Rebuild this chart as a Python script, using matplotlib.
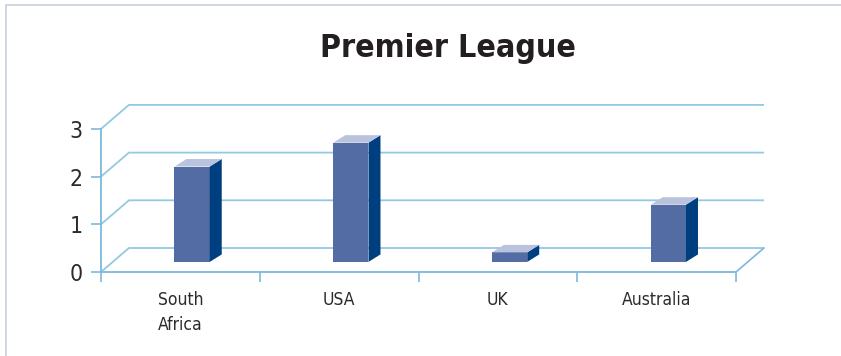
import matplotlib
matplotlib.use("Agg")
import matplotlib.pyplot as plt
from matplotlib import font_manager
from matplotlib.font_manager import FontProperties
from matplotlib.patches import Polygon, Rectangle

countries = ["South\nAfrica", "USA", "UK", "Australia"]
values = [2.0, 2.5, 0.2, 1.2]
y_ticks = [0, 1, 2, 3]


def narrow_font(bold=False):
    # pick any installed condensed/narrow sans face, else plain DejaVu Sans
    narrow = ("condensed", "semi-condensed", "extra-condensed", "ultra-condensed", 500, 300, 400)
    for f in font_manager.fontManager.ttflist:
        is_bold = f.weight in ("bold", 700, "heavy", 800)
        if (f.stretch in narrow or "Narrow" in f.name or "Condensed" in f.name) \
                and f.style == "normal" and is_bold == bold and "Mono" not in f.name \
                and "Serif" not in f.name:
            return FontProperties(fname=f.fname), True
    return FontProperties(family="DejaVu Sans", weight="bold" if bold else "normal"), False


fp_reg, reg_narrow = narrow_font(False)
fp_bold, bold_narrow = narrow_font(True)

# oblique "3d" look: back wall offset and bar depth, in data units
DX, DY = 0.176, 0.503
BAR_D = 0.42            # where the bar front sits inside the floor depth
BAR_W = 0.222
BAR_DX, BAR_DY = 0.0756, 0.157

grid_c = "#92C9E3"
axis_c = "#7DB8DC"
front_c = "#536CA3"
side_c = "#003F7F"
top_c = "#B9C3DD"

W, H = 841, 356
fig = plt.figure(figsize=(W / 100, H / 100), dpi=100)
fig.patch.set_facecolor("white")

px_cat, px_unit = 158.75, 47.7
ax_w, ax_h = 700, 200
ax = fig.add_axes([101 / W, 84 / H, ax_w / W, ax_h / H])
ax.set_xlim(-0.5, -0.5 + ax_w / px_cat)
ax.set_ylim(0, ax_h / px_unit)
ax.set_facecolor("none")

n = len(countries)
x0, x1 = -0.5, n - 0.5

# back wall gridlines with the diagonal connectors to the front axis
for v in y_ticks:
    ax.plot([x0, x0 + DX, x1 + DX], [v, v + DY, v + DY], color=grid_c, lw=1.3,
            solid_capstyle="butt", zorder=1)
# right edge of the floor
ax.plot([x1, x1 + DX], [0, DY], color=axis_c, lw=1.2, zorder=1)

for s in ["top", "right"]:
    ax.spines[s].set_visible(False)
ax.spines["left"].set_bounds(0, y_ticks[-1])
ax.spines["bottom"].set_bounds(x0, x1)
for s in ["left", "bottom"]:
    ax.spines[s].set_color(axis_c)
    ax.spines[s].set_linewidth(1.3)
    ax.spines[s].set_zorder(2)

# bars: front face via ax.bar, side and top as polygons
base = BAR_D * DY
xs = [i + BAR_D * DX for i in range(n)]
ax.bar(xs, values, width=BAR_W, bottom=base, color=front_c, zorder=3)
for xc, v in zip(xs, values):
    l, r = xc - BAR_W / 2, xc + BAR_W / 2
    t = base + v
    ax.add_patch(Polygon([(r, base), (r + BAR_DX, base + BAR_DY),
                          (r + BAR_DX, t + BAR_DY), (r, t)],
                         closed=True, facecolor=side_c, edgecolor="none", zorder=3))
    ax.add_patch(Polygon([(l, t), (r, t), (r + BAR_DX, t + BAR_DY),
                          (l + BAR_DX, t + BAR_DY)],
                         closed=True, facecolor=top_c, edgecolor="none", zorder=3))

fp_y = fp_reg.copy()
fp_y.set_size(16.5 if reg_narrow else 15)
ax.set_yticks(y_ticks)
ax.set_yticklabels([str(v) for v in y_ticks], fontproperties=fp_y, color="#2b2b2b")
ax.tick_params(axis="y", length=7, width=1.2, color=axis_c, pad=6)

fp_x = fp_reg.copy()
fp_x.set_size(12.5 if reg_narrow else 11)
ax.set_xticks([i - 0.5 for i in range(n + 1)])
ax.set_xticklabels([""] * (n + 1))
ax.set_xticks(range(n), minor=True)
ax.set_xticklabels(countries, minor=True, fontproperties=fp_x,
                   color="#2b2b2b", linespacing=1.45)
ax.tick_params(axis="x", which="major", length=7, width=1.2, color=axis_c)
ax.tick_params(axis="x", which="minor", length=0, pad=14)

fp_t = fp_bold.copy()
fp_t.set_size(23 if bold_narrow else 20)
fig.text(448 / W, 1 - 57 / H, "Premier League", ha="center", va="baseline",
         fontproperties=fp_t, color="#231F20")

# thin frame around the chart area
fig.patches.append(Rectangle((6 / W, -0.1), 1.0, 1 - 5 / H + 0.1,
                             transform=fig.transFigure, fill=False,
                             edgecolor="#C8CEDF", lw=1.2))

fig.savefig("out.png", dpi=100)
